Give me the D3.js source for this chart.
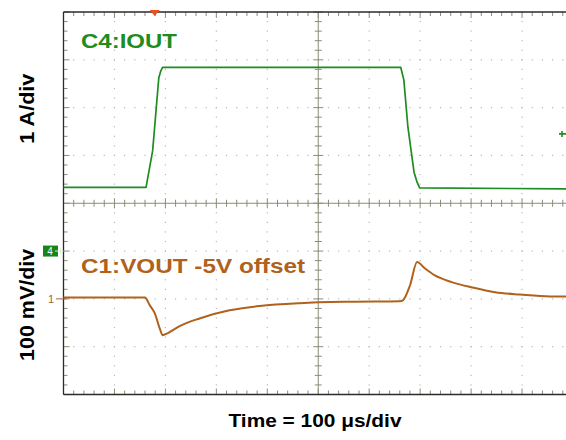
<!DOCTYPE html>
<html>
<head>
<meta charset="utf-8">
<script src="https://cdn.jsdelivr.net/npm/d3@7"></script>
<style>
  html, body { margin: 0; padding: 0; background: #fff; }
  svg { display: block; font-family: "Liberation Sans", Arial, sans-serif; }
</style>
</head>
<body>
<svg id="scope" width="566" height="440"></svg>
<script>
//
// Data (time in µs, current in A, voltage deviation in mV)
//

var iTime = [0, 162, 175, 187, 191, 194.5, 662, 668, 676, 688, 694, 699, 1000]
var iAmps = [1.33, 1.33, 2.10, 3.62, 3.77, 3.84, 3.84, 3.58, 2.59, 1.65, 1.44, 1.32, 1.30]

var vTime = [0, 160, 169, 179, 189, 194.5, 204, 228, 267, 326, 385, 464, 562, 660, 666, 680, 694, 709, 729, 762, 802, 847, 896, 955, 1000]
var vMilli = [3, 3, -13, -30, -62, -76, -72, -57, -41, -24, -15, -9, -6, -5, -3, 28, 77, 64, 49, 35, 24, 14, 9, 5, 5]

var labels = { iout: 'C4:IOUT', vout: 'C1:VOUT -5V offset' }
var axisTitles = { top: '1 A/div', bottom: '100 mV/div', time: 'Time = 100 \u03bcs/div' }
var triggerTime = 179
var triggerAmps = 2.45

//
// Colors
//

var colorI = '#1e8c1e'
var colorV = '#b0621c'
var colorGrid = '#b8b8b8'
var colorAxis = '#8c8c78'
var colorFrame = '#2a2a2a'

//
// Scales
//

var svg = d3.select('#scope')
var plotL = 63.5, plotR = 573, plotT = 12, plotB = 394.5

var x = d3.scaleLinear().domain([0, 1000]).range([plotL, plotR])
var yI = d3.scaleLinear().domain([-3, 5]).range([plotB, plotT])
var yV = d3.scaleLinear().domain([-200, 600]).range([plotB, plotT])
// division grid (10 x 8 divisions, 5 minor each)
var gx = d3.scaleLinear().domain([0, 10]).range([plotL, plotR])
var gy = d3.scaleLinear().domain([0, 8]).range([plotB, plotT])

var minorX = d3.range(0, 10.001, 0.2)
var minorY = d3.range(0, 8.001, 0.2)
var isMajor = function(m) { return Math.abs(m - Math.round(m)) < 1e-6 }

//
// Dotted grid
//

var grid = svg.append('g')
d3.range(1, 10).filter(function(d) { return d !== 5 }).forEach(function(d) {
  grid.selectAll(null).data(minorY).enter().append('rect')
    .attr('x', gx(d) - 0.6).attr('y', function(m) { return gy(m) - 0.6 })
    .attr('width', 1.2).attr('height', 1.2).attr('fill', colorGrid)
})
d3.range(1, 8).filter(function(d) { return d !== 4 }).forEach(function(d) {
  grid.selectAll(null).data(minorX).enter().append('rect')
    .attr('x', function(m) { return gx(m) - 0.6 }).attr('y', gy(d) - 0.6)
    .attr('width', 1.2).attr('height', 1.2).attr('fill', colorGrid)
})

//
// Center cross axes with ticks
//

var axes = svg.append('g').attr('stroke', colorAxis).attr('stroke-width', 1)
axes.append('line').attr('x1', gx(5)).attr('x2', gx(5)).attr('y1', plotT).attr('y2', plotB)
axes.append('line').attr('x1', plotL).attr('x2', plotR).attr('y1', gy(4)).attr('y2', gy(4))
axes.selectAll(null).data(minorX).enter().append('line')
  .attr('x1', function(m) { return gx(m) }).attr('x2', function(m) { return gx(m) })
  .attr('y1', function(m) { return gy(4) - (isMajor(m) ? 5 : 3.5) })
  .attr('y2', function(m) { return gy(4) + (isMajor(m) ? 5 : 3.5) })
axes.selectAll(null).data(minorY).enter().append('line')
  .attr('y1', function(m) { return gy(m) }).attr('y2', function(m) { return gy(m) })
  .attr('x1', function(m) { return gx(5) - (isMajor(m) ? 5 : 3.5) })
  .attr('x2', function(m) { return gx(5) + (isMajor(m) ? 5 : 3.5) })

// frame ticks
axes.selectAll(null).data(minorX).enter().append('line')
  .attr('x1', function(m) { return gx(m) }).attr('x2', function(m) { return gx(m) })
  .attr('y1', plotT).attr('y2', function(m) { return plotT + (isMajor(m) ? 6 : 4) })
axes.selectAll(null).data(minorX).enter().append('line')
  .attr('x1', function(m) { return gx(m) }).attr('x2', function(m) { return gx(m) })
  .attr('y1', plotB).attr('y2', function(m) { return plotB - (isMajor(m) ? 6 : 4) })
axes.selectAll(null).data(minorY).enter().append('line')
  .attr('y1', function(m) { return gy(m) }).attr('y2', function(m) { return gy(m) })
  .attr('x1', plotL).attr('x2', function(m) { return plotL + (isMajor(m) ? 6 : 4) })

// frame
var frame = svg.append('g').attr('stroke', colorFrame).attr('stroke-width', 1.3)
frame.append('line').attr('x1', plotL).attr('x2', plotL).attr('y1', plotT).attr('y2', plotB)
frame.append('line').attr('x1', plotL).attr('x2', 566).attr('y1', plotT).attr('y2', plotT)
frame.append('line').attr('x1', plotL).attr('x2', 566).attr('y1', plotB).attr('y2', plotB)

//
// Traces
//

var iData = iTime.map(function(t, k) { return [t, iAmps[k]] })
var vData = vTime.map(function(t, k) { return [t, vMilli[k]] })

svg.append('path').datum(iData)
  .attr('fill', 'none').attr('stroke', colorI).attr('stroke-width', 1.7)
  .attr('stroke-linejoin', 'round')
  .attr('d', d3.line().x(function(d) { return x(d[0]) }).y(function(d) { return yI(d[1]) }))

svg.append('path').datum(vData)
  .attr('fill', 'none').attr('stroke', colorV).attr('stroke-width', 2)
  .attr('stroke-linejoin', 'round')
  .attr('d', d3.line().curve(d3.curveMonotoneX).x(function(d) { return x(d[0]) }).y(function(d) { return yV(d[1]) }))

//
// Markers
//

// trigger position
var tx = x(triggerTime)
svg.append('path')
  .attr('d', 'M' + (tx - 5) + ',' + (plotT - 2) + 'L' + (tx + 5) + ',' + (plotT - 2) + 'L' + tx + ',' + (plotT + 4) + 'Z')
  .attr('fill', '#e8531d')

// trigger level
var ty = yI(triggerAmps)
svg.append('path')
  .attr('d', 'M559,' + ty + 'L566,' + ty + 'M562,' + (ty - 3) + 'L562,' + (ty + 3))
  .attr('stroke', colorI).attr('stroke-width', 1.6)

// channel 4 ground
var g4 = yI(0)
svg.append('rect').attr('x', 43).attr('y', g4 - 5.5).attr('width', 15).attr('height', 11).attr('fill', '#17861a')
svg.append('text').attr('x', 50).attr('y', g4 + 4).attr('text-anchor', 'middle')
  .attr('font-size', 10).attr('fill', '#fff').text('4')
svg.append('path').attr('d', 'M55,' + g4 + 'L' + plotL + ',' + g4 + 'M' + (plotL - 3) + ',' + (g4 - 2.5) + 'L' + (plotL - 3) + ',' + (g4 + 2.5))
  .attr('stroke', '#d9f2d9').attr('stroke-width', 1)

// channel 1 ground
var g1 = yV(0)
svg.append('text').attr('x', 51).attr('y', g1 + 4).attr('text-anchor', 'middle')
  .attr('font-size', 11).attr('fill', '#a0623a').text('1')
svg.append('path').attr('d', 'M56,' + g1 + 'L' + (plotL + 3) + ',' + g1)
  .attr('stroke', '#a0623a').attr('stroke-width', 1)

//
// Texts
//

svg.append('text').attr('x', 81).attr('y', 48)
  .attr('font-size', 21).attr('font-weight', 'bold').attr('fill', colorI)
  .attr('textLength', 96).attr('lengthAdjust', 'spacingAndGlyphs')
  .text(labels.iout)

svg.append('text').attr('x', 81).attr('y', 273)
  .attr('font-size', 21).attr('font-weight', 'bold').attr('fill', colorV)
  .attr('textLength', 224).attr('lengthAdjust', 'spacingAndGlyphs')
  .text(labels.vout)

svg.append('text')
  .attr('transform', 'translate(34,' + ((plotT + gy(4)) / 2 + 1) + ') rotate(-90)')
  .attr('text-anchor', 'middle').attr('font-size', 20).attr('font-weight', 'bold')
  .attr('textLength', 70).attr('lengthAdjust', 'spacingAndGlyphs')
  .text(axisTitles.top)

svg.append('text')
  .attr('transform', 'translate(34,' + ((gy(4) + plotB) / 2 + 6) + ') rotate(-90)')
  .attr('text-anchor', 'middle').attr('font-size', 20).attr('font-weight', 'bold')
  .attr('textLength', 112).attr('lengthAdjust', 'spacingAndGlyphs')
  .text(axisTitles.bottom)

svg.append('text').attr('x', 315).attr('y', 427)
  .attr('text-anchor', 'middle').attr('font-size', 18).attr('font-weight', 'bold')
  .attr('textLength', 173).attr('lengthAdjust', 'spacingAndGlyphs')
  .text(axisTitles.time)
</script>
</body>
</html>
